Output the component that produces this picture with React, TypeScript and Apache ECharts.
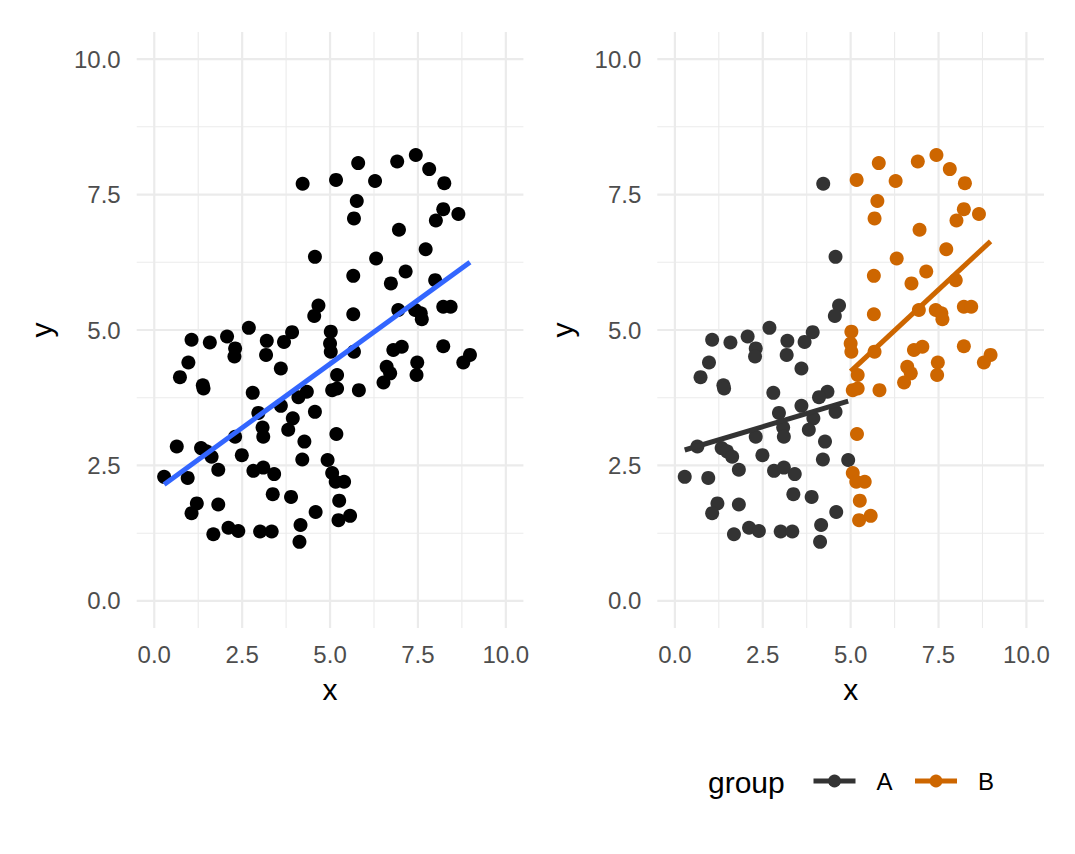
import React, { useEffect, useRef } from 'react';
import * as echarts from 'echarts';

// values (x < 5 is group A, x >= 5 is group B)
const groupAX = [
  4.22, 4.57, 4.67, 4.55, 2.69, 1.06, 1.58, 2.07, 2.30, 2.28,
  3.20, 3.18, 3.92, 3.69, 0.97, 0.73, 1.38, 1.40, 3.60, 2.80,
  4.34, 4.10, 2.96, 3.60, 4.57, 3.94, 3.08, 3.10, 3.81, 4.27,
  0.64, 1.33, 1.48, 1.63, 2.30, 2.49, 1.82, 4.21, 4.93, 2.82,
  3.10, 3.41, 0.28, 0.95, 3.37, 3.89, 1.21, 1.06, 1.82, 4.59,
  1.68, 2.11, 2.39, 3.01, 3.34, 4.16, 4.13,
];
const groupAY = [
  7.70, 6.35, 5.45, 5.26, 5.04, 4.82, 4.77, 4.88, 4.66, 4.51,
  4.80, 4.54, 4.96, 4.78, 4.40, 4.13, 3.98, 3.92, 4.29, 3.84,
  3.86, 3.76, 3.47, 3.60, 3.49, 3.37, 3.20, 3.03, 3.16, 2.94,
  2.85, 2.82, 2.76, 2.66, 3.03, 2.69, 2.42, 2.61, 2.60, 2.40,
  2.46, 2.34, 2.29, 2.27, 1.97, 1.92, 1.80, 1.62, 1.78, 1.64,
  1.23, 1.35, 1.29, 1.28, 1.28, 1.40, 1.09,
];
const groupBX = [
  5.17, 5.80, 6.28, 6.91, 7.44, 7.82, 8.25, 5.76, 5.68, 8.22,
  8.65, 8.01, 6.96, 7.72, 6.31, 5.66, 7.15, 6.73, 7.99, 5.66,
  6.94, 7.42, 7.58, 7.61, 8.22, 8.43, 5.02, 5.00, 5.02, 5.68,
  6.80, 7.04, 8.22, 8.98, 8.79, 5.20, 6.61, 6.71, 6.52, 7.48,
  7.46, 5.06, 5.20, 5.82, 5.18, 5.06, 5.16, 5.40, 5.26, 5.24,
  5.57,
];
const groupBY = [
  7.77, 8.08, 7.75, 8.11, 8.23, 7.97, 7.71, 7.38, 7.06, 7.23,
  7.14, 7.02, 6.85, 6.49, 6.32, 6.00, 6.08, 5.86, 5.92, 5.29,
  5.37, 5.37, 5.31, 5.20, 5.43, 5.43, 4.97, 4.75, 4.60, 4.60,
  4.63, 4.69, 4.70, 4.54, 4.40, 4.17, 4.32, 4.20, 4.03, 4.40,
  4.17, 3.89, 3.92, 3.89, 3.08, 2.36, 2.20, 2.20, 1.85, 1.49,
  1.57,
];

const groupNames = ['A', 'B'];
const majorBreaks = [0, 2.5, 5, 7.5, 10];
const minorBreaks = [1.25, 3.75, 6.25, 8.75];
const tickLabels = ['0.0', '2.5', '5.0', '7.5', '10.0'];
const axisLimits = [-0.5, 10.5];

const FONT = '"Liberation Sans", Arial, Helvetica, sans-serif';
const groupColors = ['#333333', '#CD6600'];
const panels = [
  { left: 136.7, top: 32, width: 386.7, height: 596 },
  { left: 657.3, top: 32, width: 386.7, height: 596 },
];

// ordinary least squares, drawn over the range of x
function fitLine(xs: number[], ys: number[]): number[][] {
  const n = xs.length;
  const mx = xs.reduce((s, v) => s + v, 0) / n;
  const my = ys.reduce((s, v) => s + v, 0) / n;
  let sxy = 0;
  let sxx = 0;
  for (let i = 0; i < n; i++) {
    sxy += (xs[i] - mx) * (ys[i] - my);
    sxx += (xs[i] - mx) * (xs[i] - mx);
  }
  const b = sxy / sxx;
  const a = my - b * mx;
  const x0 = Math.min(...xs);
  const x1 = Math.max(...xs);
  return [[x0, a + b * x0], [x1, a + b * x1]];
}

const zip = (xs: number[], ys: number[]) => xs.map((x, i) => [x, ys[i]]);

const App: React.FC = () => {
  const chartRef = useRef<HTMLDivElement>(null);

  useEffect(() => {
    if (!chartRef.current) return;
    const chart = echarts.init(chartRef.current, null, { renderer: 'svg' });

    const labelFor = (v: number) => {
      const i = majorBreaks.indexOf(v);
      return i >= 0 ? tickLabels[i] : '';
    };

    const xAxes = panels.map((_, i) => ({
      gridIndex: i,
      type: 'value' as const,
      min: axisLimits[0],
      max: axisLimits[1],
      name: 'x',
      nameLocation: 'middle' as const,
      nameGap: 46,
      nameTextStyle: { fontSize: 30, color: '#000000', fontFamily: FONT },
      axisLine: { show: false },
      axisTick: { show: false },
      splitLine: { show: false },
      axisLabel: {
        customValues: majorBreaks,
        formatter: labelFor,
        fontSize: 24,
        color: '#4D4D4D',
        fontFamily: FONT,
        margin: 14,
      },
    }));

    const yAxes = panels.map((_, i) => ({
      gridIndex: i,
      type: 'value' as const,
      min: axisLimits[0],
      max: axisLimits[1],
      name: 'y',
      nameLocation: 'middle' as const,
      nameGap: 80,
      nameTextStyle: { fontSize: 30, color: '#000000', fontFamily: FONT },
      axisLine: { show: false },
      axisTick: { show: false },
      splitLine: { show: false },
      axisLabel: {
        customValues: majorBreaks,
        formatter: labelFor,
        fontSize: 24,
        color: '#4D4D4D',
        fontFamily: FONT,
        margin: 16,
      },
    }));

    // panel grid lines as plain line series
    const gridSeries: any[] = [];
    panels.forEach((_, i) => {
      const add = (breaks: number[], width: number) => {
        breaks.forEach((b) => {
          gridSeries.push({
            type: 'line',
            xAxisIndex: i,
            yAxisIndex: i,
            data: [[b, axisLimits[0]], [b, axisLimits[1]]],
            symbol: 'none',
            silent: true,
            z: 0,
            lineStyle: { color: '#EBEBEB', width },
          });
          gridSeries.push({
            type: 'line',
            xAxisIndex: i,
            yAxisIndex: i,
            data: [[axisLimits[0], b], [axisLimits[1], b]],
            symbol: 'none',
            silent: true,
            z: 0,
            lineStyle: { color: '#EBEBEB', width },
          });
        });
      };
      add(minorBreaks, 1.1);
      add(majorBreaks, 2.2);
    });

    const allX = groupAX.concat(groupBX);
    const allY = groupAY.concat(groupBY);
    const groupData = [zip(groupAX, groupAY), zip(groupBX, groupBY)];

    const option: echarts.EChartsOption = {
      animation: false,
      backgroundColor: '#ffffff',
      grid: panels.map((p) => ({ ...p, containLabel: false })),
      xAxis: xAxes as any,
      yAxis: yAxes as any,
      legend: {
        data: groupNames,
        left: 811,
        top: 769,
        padding: 0,
        itemWidth: 42,
        itemHeight: 16,
        itemGap: 20,
        lineStyle: { width: 5 },
        textStyle: { fontSize: 24, color: '#000000', fontFamily: FONT, padding: [0, 0, 0, 16] },
      },
      graphic: [
        {
          type: 'text',
          x: 708,
          y: 782,
          style: {
            text: 'group',
            fontSize: 30,
            fill: '#000000',
            fontFamily: FONT,
            verticalAlign: 'middle',
            align: 'left',
          },
        },
      ],
      series: [
        ...gridSeries,
        {
          name: 'all points',
          type: 'scatter',
          xAxisIndex: 0,
          yAxisIndex: 0,
          data: zip(allX, allY),
          symbolSize: 14,
          itemStyle: { color: '#000000', opacity: 1 },
          z: 2,
        },
        {
          name: 'fit',
          type: 'line',
          xAxisIndex: 0,
          yAxisIndex: 0,
          data: fitLine(allX, allY),
          symbol: 'none',
          lineStyle: { color: '#3366FF', width: 5 },
          z: 3,
        },
        ...groupNames.map((g, k) => ({
          name: `points ${g}`,
          type: 'scatter' as const,
          xAxisIndex: 1,
          yAxisIndex: 1,
          data: groupData[k],
          symbolSize: 14,
          itemStyle: { color: groupColors[k], opacity: 1 },
          z: 2,
        })),
        ...groupNames.map((g, k) => ({
          name: g,
          type: 'line' as const,
          xAxisIndex: 1,
          yAxisIndex: 1,
          data: fitLine(k === 0 ? groupAX : groupBX, k === 0 ? groupAY : groupBY),
          symbol: 'circle',
          symbolSize: 14,
          showSymbol: false,
          itemStyle: { color: groupColors[k] },
          lineStyle: { color: groupColors[k], width: 5 },
          z: 3,
        })),
      ],
    };

    chart.setOption(option);
    return () => {
      chart.dispose();
    };
  }, []);

  return (
    <div
      ref={chartRef}
      style={{ position: 'absolute', left: 0, top: 0, width: '1075px', height: '854px' }}
    />
  );
};

export default App;
